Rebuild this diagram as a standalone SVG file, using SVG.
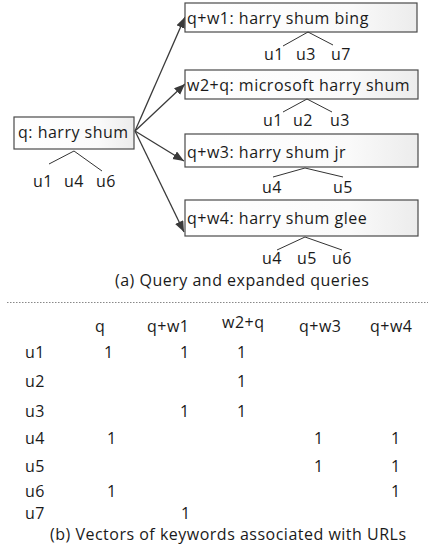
<svg xmlns="http://www.w3.org/2000/svg" width="428" height="550" viewBox="0 0 428 550">
<style>
text{font-family:"Open Sans","Liberation Sans",sans-serif;font-size:16px;letter-spacing:0.5px;fill:#1a1a1a}
.box{fill:url(#g);stroke:#4a4a4a;stroke-width:1.2}
.tree{fill:none;stroke:#333;stroke-width:1}
.arr{fill:none;stroke:#3a3a3a;stroke-width:1.3;marker-end:url(#ah)}
</style>
<defs>
<linearGradient id="g" x1="0" y1="0" x2="1" y2="0"><stop offset="0" stop-color="#fff"/><stop offset="0.7" stop-color="#fafafa"/><stop offset="1" stop-color="#ececec"/></linearGradient>
<marker id="ah" markerUnits="userSpaceOnUse" markerWidth="12" markerHeight="10" refX="11" refY="4.5" orient="auto"><path d="M0,0 L11,4.5 L0,9 z" fill="#3a3a3a"/></marker>
</defs>
<g id="connectors">
<line class="arr" x1="135" y1="131" x2="185" y2="17"/>
<line class="arr" x1="135" y1="131" x2="185" y2="84"/>
<line class="arr" x1="135" y1="131" x2="184" y2="161"/>
<line class="arr" x1="135" y1="131" x2="184" y2="232"/>
</g>
<g id="q">
<rect class="box" x="14" y="117" width="120" height="32"/>
<text x="18" y="138">q: harry shum</text>
<path class="tree" d="M49,164 L74,151 L102,171"/>
<text x="33" y="187">u1</text><text x="64" y="187">u4</text><text x="96" y="187">u6</text>
</g>
<g id="qw1">
<rect class="box" x="185" y="3" width="232" height="29"/>
<text x="187" y="24">q+w1: harry shum bing</text>
<path class="tree" d="M283,46 L308,32 L333,45"/>
<text x="264" y="60">u1</text><text x="296" y="60">u3</text><text x="331" y="60">u7</text>
</g>
<g id="w2q">
<rect class="box" x="185" y="70" width="233" height="29"/>
<text x="187" y="91">w2+q: microsoft harry shum</text>
<path class="tree" d="M283,112 L307,99 L332,112"/>
<text x="263" y="126">u1</text><text x="293" y="126">u2</text><text x="330" y="126">u3</text>
</g>
<g id="qw3">
<rect class="box" x="185" y="134" width="233" height="33"/>
<text x="187" y="158">q+w3: harry shum jr</text>
<path class="tree" d="M273,177 L305,168 L343,177"/>
<text x="262" y="193">u4</text><text x="333" y="193">u5</text>
</g>
<g id="qw4">
<rect class="box" x="185" y="200" width="233" height="36"/>
<text x="187" y="224">q+w4: harry shum glee</text>
<path class="tree" d="M277,250 L305,237 L342,250"/>
<text x="262" y="264">u4</text><text x="297" y="264">u5</text><text x="332" y="264">u6</text>
</g>
<text x="115" y="286">(a) Query and expanded queries</text>
<line x1="7" y1="302.5" x2="428" y2="302.5" stroke="#888" stroke-width="1" stroke-dasharray="1.5 1.5"/>
<g id="table">
<text x="95" y="332">q</text>
<text x="147" y="332">q+w1</text>
<text x="222" y="328">w2+q</text>
<text x="299" y="332">q+w3</text>
<text x="370" y="332">q+w4</text>
<text x="25" y="358">u1</text><text x="104" y="358">1</text><text x="180" y="358">1</text><text x="237" y="358">1</text>
<text x="25" y="387">u2</text><text x="237" y="387">1</text>
<text x="25" y="417">u3</text><text x="180" y="417">1</text><text x="237" y="417">1</text>
<text x="25" y="444">u4</text><text x="107" y="444">1</text><text x="314" y="444">1</text><text x="391" y="444">1</text>
<text x="25" y="472">u5</text><text x="314" y="472">1</text><text x="391" y="472">1</text>
<text x="25" y="497">u6</text><text x="107" y="497">1</text><text x="391" y="497">1</text>
<text x="25" y="519">u7</text><text x="181" y="519">1</text>
</g>
<text x="50" y="540">(b) Vectors of keywords associated with URLs</text>
</svg>
